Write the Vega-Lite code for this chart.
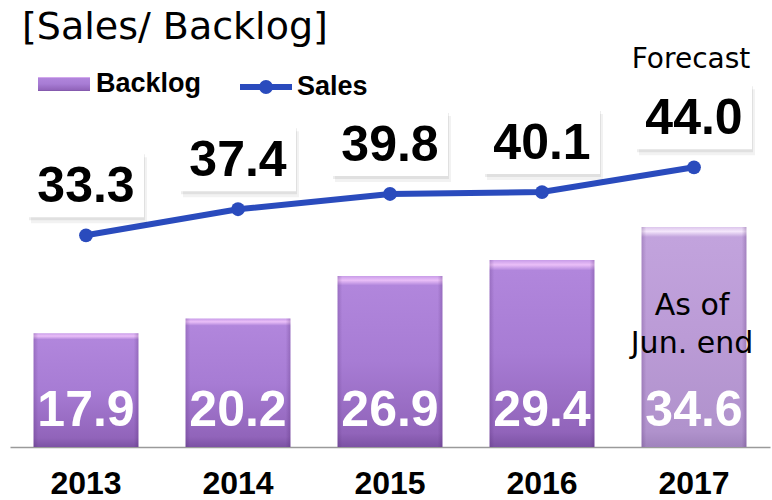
{
  "$schema": "https://vega.github.io/schema/vega-lite/v6.json",
  "width": 760,
  "height": 401,
  "autosize": {"type": "none"},
  "padding": {"left": 10, "top": 46, "right": 2, "bottom": 53},
  "background": "white",
  "config": {"view": {"stroke": null}},
  "title": {
    "text": "[Sales/ Backlog]",
    "anchor": "start",
    "frame": "group",
    "font": "DejaVu Sans",
    "fontSize": 38,
    "fontWeight": "normal",
    "color": "#000000",
    "offset": -31,
    "baseline": "alphabetic",
    "dx": 12
  },
  "data": {
    "values": [
      {"year": "2013", "backlog": 17.9, "sales": 33.3},
      {"year": "2014", "backlog": 20.2, "sales": 37.4},
      {"year": "2015", "backlog": 26.9, "sales": 39.8},
      {"year": "2016", "backlog": 29.4, "sales": 40.1},
      {"year": "2017", "backlog": 34.6, "sales": 44.0}
    ]
  },
  "encoding": {
    "x": {
      "field": "year",
      "type": "nominal",
      "scale": {"paddingInner": 0.31, "paddingOuter": 0.155},
      "axis": {
        "title": null,
        "ticks": false,
        "grid": false,
        "domainColor": "#9a9a9a",
        "domainWidth": 1.5,
        "labelFont": "Liberation Sans",
        "labelFontWeight": "bold",
        "labelFontSize": 32,
        "labelColor": "#000000",
        "labelPadding": 21,
        "labelAngle": 0
      }
    }
  },
  "layer": [
    {
      "transform": [{"filter": "datum.year !== '2017'"}],
      "mark": {
        "type": "bar",
        "strokeWidth": 0,
        "fill": {
          "gradient": "linear", "x1": 0, "y1": 0, "x2": 0, "y2": 1,
          "stops": [
            {"offset": 0, "color": "#c89ce8"},
            {"offset": 0.025, "color": "#eabff8"},
            {"offset": 0.055, "color": "#b186dc"},
            {"offset": 0.5, "color": "#a77cd4"},
            {"offset": 0.92, "color": "#9164ba"},
            {"offset": 1, "color": "#7c52a4"}
          ]
        }
      },
      "encoding": {
        "y": {"field": "backlog", "type": "quantitative", "scale": {"domain": [0, 63.08], "nice": false, "zero": true}, "axis": null},
        "stroke": {
          "datum": "Backlog",
          "type": "nominal",
          "scale": {"range": ["#a27ad0"]},
          "legend": {
            "title": null,
            "orient": "none",
            "legendX": 28,
            "legendY": 12,
            "symbolSize": 2704,
            "symbolType": "M-1,-0.27H1V0.27H-1Z",
            "symbolStrokeWidth": 0,
            "symbolFillColor": "#a27ad0",
            "labelFont": "Liberation Sans",
            "labelFontSize": 27,
            "labelFontWeight": "bold",
            "labelColor": "#000000",
            "labelOffset": 6,
            "padding": 0,
            "labelLimit": 300
          }
        }
      }
    },
    {
      "transform": [{"filter": "datum.year === '2017'"}],
      "mark": {
        "type": "bar",
        "strokeWidth": 0,
        "fill": {
          "gradient": "linear", "x1": 0, "y1": 0, "x2": 0, "y2": 1,
          "stops": [
            {"offset": 0, "color": "#dcc6ec"},
            {"offset": 0.02, "color": "#f4e6fb"},
            {"offset": 0.045, "color": "#c2a3dd"},
            {"offset": 0.5, "color": "#bb9bd6"},
            {"offset": 0.93, "color": "#b092cc"},
            {"offset": 1, "color": "#a083bd"}
          ]
        }
      },
      "encoding": {
        "y": {"field": "backlog", "type": "quantitative", "axis": null}
      }
    },
    {
      "mark": {
        "type": "bar",
        "strokeWidth": 0,
        "fill": {
          "gradient": "linear", "x1": 0, "y1": 0, "x2": 1, "y2": 0,
          "stops": [
            {"offset": 0, "color": "rgba(70,30,100,0.22)"},
            {"offset": 0.045, "color": "rgba(70,30,100,0)"},
            {"offset": 0.955, "color": "rgba(70,30,100,0)"},
            {"offset": 1, "color": "rgba(70,30,100,0.25)"}
          ]
        }
      },
      "encoding": {
        "y": {"field": "backlog", "type": "quantitative", "axis": null}
      }
    },
    {
      "mark": {
        "type": "text",
        "font": "Liberation Sans",
        "fontWeight": "bold",
        "fontSize": 50,
        "color": "#ffffff",
        "baseline": "alphabetic",
        "align": "center",
        "dy": -21
      },
      "encoding": {
        "y": {"datum": 0, "type": "quantitative"},
        "text": {"field": "backlog", "type": "quantitative", "format": ".1f"}
      }
    },
    {
      "transform": [{"filter": "datum.year === '2017'"}],
      "mark": {
        "type": "text",
        "text": ["As of", "Jun. end"],
        "font": "DejaVu Sans",
        "fontSize": 30,
        "lineHeight": 38,
        "color": "#000000",
        "baseline": "alphabetic",
        "align": "center",
        "dx": -2,
        "dy": 88
      },
      "encoding": {
        "y": {"field": "backlog", "type": "quantitative"}
      }
    },
    {
      "mark": {"type": "line", "strokeWidth": 6},
      "encoding": {
        "y": {"field": "sales", "type": "quantitative"},
        "color": {
          "datum": "Sales",
          "type": "nominal",
          "scale": {"range": ["#2a4bbd"]},
          "legend": {
            "title": null,
            "orient": "none",
            "legendX": 227,
            "legendY": 12,
            "symbolSize": 2704,
            "symbolType": "M-1,0H1M0.15,0A0.15,0.15 0 1,1 -0.15,0A0.15,0.15 0 1,1 0.15,0",
            "symbolStrokeWidth": 6,
            "symbolFillColor": "#2a4bbd",
            "labelFont": "Liberation Sans",
            "labelFontSize": 27,
            "labelFontWeight": "bold",
            "labelColor": "#000000",
            "labelOffset": 2,
            "padding": 0,
            "labelLimit": 300
          }
        }
      }
    },
    {
      "mark": {"type": "point", "filled": true, "size": 190, "color": "#2a4bbd", "opacity": 1},
      "encoding": {
        "y": {"field": "sales", "type": "quantitative"}
      }
    },
    {
      "mark": {
        "type": "point",
        "shape": "M-1,-0.569H1V0.569H-1Z",
        "size": 13456,
        "filled": true,
        "color": "#000000",
        "opacity": 0.05,
        "xOffset": 3,
        "yOffset": -45
      },
      "encoding": {
        "y": {"field": "sales", "type": "quantitative"}
      }
    },
    {
      "mark": {
        "type": "point",
        "shape": "M-1,-0.569H1V0.569H-1Z",
        "size": 13456,
        "filled": true,
        "color": "#000000",
        "opacity": 0.07,
        "xOffset": 1,
        "yOffset": -48
      },
      "encoding": {
        "y": {"field": "sales", "type": "quantitative"}
      }
    },
    {
      "mark": {
        "type": "point",
        "shape": "M-1,-0.569H1V0.569H-1Z",
        "size": 13456,
        "filled": true,
        "color": "#ffffff",
        "opacity": 1,
        "yOffset": -51
      },
      "encoding": {
        "y": {"field": "sales", "type": "quantitative"}
      }
    },
    {
      "mark": {
        "type": "text",
        "font": "Liberation Sans",
        "fontWeight": "bold",
        "fontSize": 50,
        "color": "#000000",
        "baseline": "alphabetic",
        "align": "center",
        "dy": -33
      },
      "encoding": {
        "y": {"field": "sales", "type": "quantitative"},
        "text": {"field": "sales", "type": "quantitative", "format": ".1f"}
      }
    },
    {
      "transform": [{"filter": "datum.year === '2017'"}],
      "mark": {
        "type": "text",
        "text": "Forecast",
        "font": "DejaVu Sans",
        "fontSize": 28,
        "color": "#000000",
        "baseline": "alphabetic",
        "align": "center",
        "dx": -3,
        "dy": -99
      },
      "encoding": {
        "y": {"field": "sales", "type": "quantitative"}
      }
    }
  ]
}
